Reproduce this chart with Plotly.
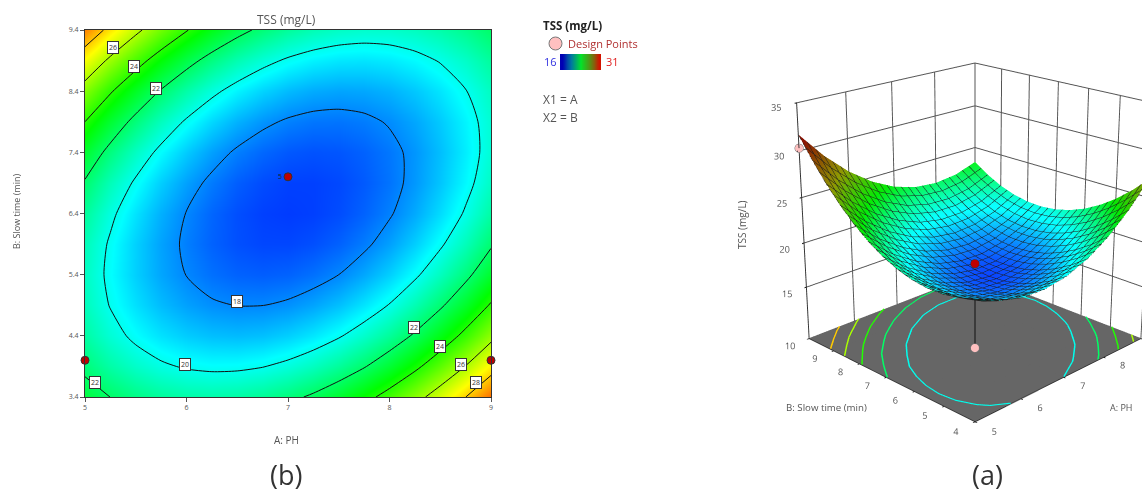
import plotly.graph_objects as go

# Page window is 1142x489; the figure is larger and offset so the surface panel's
# viewport can be tall enough for the reference's mild perspective.
W, H = 1250, 1000
TOP = 275

# ---- contour panel data ----
PH_2D = [5, 5.25, 5.5, 5.75, 6, 6.25, 6.5, 6.75, 7, 7.25, 7.5, 7.75, 8, 8.25, 8.5, 8.75, 9]
SLOW_2D = [3.4, 3.9, 4.4, 4.9, 5.4, 5.9, 6.4, 6.9, 7.4, 7.9, 8.4, 8.9, 9.4]
TSS_2D = [
    [22.57, 21.99, 21.54, 21.23, 21.05, 21.01, 21.10, 21.33, 21.69, 22.19, 22.82, 23.58, 24.48, 25.51, 26.68, 27.99, 29.43],
    [21.71, 21.05, 20.53, 20.15, 19.90, 19.79, 19.81, 19.96, 20.25, 20.67, 21.23, 21.92, 22.75, 23.71, 24.81, 26.04, 27.40],
    [21.10, 20.37, 19.78, 19.33, 19.01, 18.82, 18.76, 18.84, 19.06, 19.41, 19.90, 20.52, 21.27, 22.16, 23.18, 24.34, 25.63],
    [20.75, 19.95, 19.29, 18.76, 18.36, 18.10, 17.98, 17.99, 18.13, 18.41, 18.82, 19.37, 20.05, 20.87, 21.82, 22.90, 24.12],
    [20.65, 19.78, 19.04, 18.44, 17.98, 17.65, 17.45, 17.38, 17.45, 17.66, 18.00, 18.47, 19.08, 19.82, 20.70, 21.71, 22.86],
    [20.81, 19.87, 19.06, 18.39, 17.85, 17.44, 17.17, 17.03, 17.03, 17.16, 17.43, 17.83, 18.37, 19.04, 19.85, 20.79, 21.86],
    [21.22, 20.21, 19.33, 18.58, 17.97, 17.49, 17.15, 16.94, 16.87, 16.93, 17.12, 17.45, 17.91, 18.51, 19.24, 20.11, 21.11],
    [21.89, 20.80, 19.85, 19.03, 18.35, 17.80, 17.38, 17.10, 16.95, 16.94, 17.06, 17.32, 17.71, 18.24, 18.90, 19.69, 20.62],
    [22.82, 21.66, 20.63, 19.74, 18.98, 18.36, 17.87, 17.52, 17.30, 17.21, 17.26, 17.44, 17.76, 18.21, 18.80, 19.52, 20.38],
    [24.00, 22.77, 21.67, 20.70, 19.87, 19.17, 18.61, 18.18, 17.89, 17.73, 17.71, 17.82, 18.07, 18.45, 18.97, 19.62, 20.40],
    [25.43, 24.12, 22.95, 21.91, 21.01, 20.24, 19.61, 19.11, 18.75, 18.52, 18.42, 18.46, 18.63, 18.94, 19.38, 19.96, 20.67],
    [27.12, 25.74, 24.50, 23.39, 22.41, 21.57, 20.87, 20.30, 19.86, 19.56, 19.39, 19.35, 19.45, 19.69, 20.06, 20.56, 21.20],
    [29.06, 27.61, 26.30, 25.12, 24.07, 23.15, 22.37, 21.73, 21.22, 20.84, 20.60, 20.49, 20.52, 20.69, 20.99, 21.42, 21.98],
]
LABEL_X = [5.28, 5.48, 5.70, 6.50, 5.99, 8.24, 8.50, 8.70, 8.855, 5.095]
LABEL_Y = [9.11, 8.81, 8.45, 4.96, 3.93, 4.54, 4.23, 3.93, 3.64, 3.63]
LABEL_TEXT = ["26", "24", "22", "18", "20", "22", "24", "26", "28", "22"]
POINT_X = [5, 7, 9]
POINT_Y = [4, 7, 4]
POINT_TEXT = ["", "5", ""]
TICK_X = [5, 6, 7, 8, 9]
TICK_Y = [3.4, 4.4, 5.4, 6.4, 7.4, 8.4, 9.4]

# ---- surface panel data ----
PH_3D = [5, 5.5, 6, 6.5, 7, 7.5, 8, 8.5, 9]
SLOW_3D = [4, 4.5, 5, 5.5, 6, 6.5, 7, 7.5, 8, 8.5, 9, 9.5, 10]
TSS_3D = [
    [21.56, 20.36, 19.70, 19.58, 19.99, 20.94, 22.44, 24.46, 27.03],
    [21.01, 19.66, 18.86, 18.59, 18.86, 19.66, 21.01, 22.89, 25.31],
    [20.71, 19.22, 18.27, 17.85, 17.98, 18.64, 19.84, 21.57, 23.85],
    [20.66, 19.03, 17.93, 17.37, 17.35, 17.87, 18.92, 20.51, 22.64],
    [20.87, 19.09, 17.85, 17.15, 16.98, 17.35, 18.26, 19.71, 21.69],
    [21.34, 19.41, 18.02, 17.17, 16.86, 17.09, 17.85, 19.15, 20.99],
    [22.06, 19.99, 18.45, 17.46, 17.00, 17.08, 17.70, 18.86, 20.55],
    [23.03, 20.82, 19.14, 18.00, 17.40, 17.33, 17.80, 18.82, 20.36],
    [24.26, 21.90, 20.08, 18.79, 18.05, 17.84, 18.16, 19.03, 20.43],
    [25.75, 23.24, 21.27, 19.84, 18.95, 18.59, 18.78, 19.50, 20.76],
    [27.49, 24.84, 22.72, 21.15, 20.11, 19.61, 19.65, 20.22, 21.33],
    [29.48, 26.69, 24.43, 22.71, 21.52, 20.88, 20.77, 21.20, 22.17],
    [31.73, 28.79, 26.39, 24.52, 23.19, 22.40, 22.15, 22.43, 23.25],
]
FLOOR_LEVELS = [20, 22, 24, 26, 28]
TICK_A = [5, 6, 7, 8, 9]
TICK_B = [4, 5, 6, 7, 8, 9, 10]
TICK_Z = [15, 20, 25, 30, 35]
Z_RANGE = [9, 35]
STEM_A = [6.78, 7]
STEM_B = [6.67, 7]
STEM_Z = [9, 17]
PINK_A = [6.61, 5]
PINK_B = [6.42, 10]
PINK_Z = [9.6, 30.3]
RED_A = [6.83]
RED_B = [6.75]
RED_Z = [18.3]
LEGEND_BAR = [[0, 1, 2, 3, 4, 5, 6, 7, 8, 9, 10]]

RAINBOW = [[0, "#0000ff"], [0.25, "#00ffff"], [0.5, "#00ff00"], [0.75, "#ffff00"], [1, "#ff0000"]]
RAINBOW_3D = [[0, "#0000ff"], [0.25, "#00ffff"], [0.5, "#00e600"], [0.72, "#8c9600"], [1, "#8a1000"]]
FONT = "Open Sans"
TEXT = "#555555"


def px(x):
    return x / W


def py(y):
    return 1 - (y + TOP) / H


def level_color(v):
    t = (v - 16) / 15
    for (a, ca), (b, cb) in zip(RAINBOW, RAINBOW[1:]):
        if t <= b:
            f = (t - a) / (b - a)
            rgb = [int(int(ca[i:i + 2], 16) * (1 - f) + int(cb[i:i + 2], 16) * f) for i in (1, 3, 5)]
            return "rgb(%d,%d,%d)" % tuple(rgb)
    return "#ff0000"


def level_segments(level, xs, ys, zz):
    """Marching squares over the value table; returns polyline coords."""
    out_x, out_y = [], []
    for j in range(len(ys) - 1):
        for i in range(len(xs) - 1):
            c = [(xs[i], ys[j], zz[j][i]), (xs[i + 1], ys[j], zz[j][i + 1]),
                 (xs[i + 1], ys[j + 1], zz[j + 1][i + 1]), (xs[i], ys[j + 1], zz[j + 1][i])]
            hits = []
            for k in range(4):
                a, b = c[k], c[(k + 1) % 4]
                if (a[2] - level) * (b[2] - level) < 0:
                    f = (level - a[2]) / (b[2] - a[2])
                    hits.append((a[0] + f * (b[0] - a[0]), a[1] + f * (b[1] - a[1])))
            for s in range(0, len(hits) - 1, 2):
                out_x += [hits[s][0], hits[s + 1][0], None]
                out_y += [hits[s][1], hits[s + 1][1], None]
    return out_x, out_y


fig = go.Figure()

fig.add_trace(go.Contour(
    x=PH_2D, y=SLOW_2D, z=TSS_2D, zmin=16, zmax=31, colorscale=RAINBOW, showscale=False,
    contours=dict(coloring="heatmap", start=18, end=28, size=2),
    line=dict(color="#111111", width=1, smoothing=0.7), xaxis="x", yaxis="y",
))
fig.add_trace(go.Scatter(
    x=POINT_X, y=POINT_Y, mode="markers+text", text=POINT_TEXT, textposition="middle left",
    textfont=dict(size=7, color="#222222", family=FONT), cliponaxis=False,
    marker=dict(size=8, color="#c00000", line=dict(color="#333333", width=1)), xaxis="x", yaxis="y",
))
fig.add_trace(go.Heatmap(
    z=LEGEND_BAR, showscale=False, zsmooth="best", xaxis="x2", yaxis="y2",
    colorscale=[[0, "#0000b4"], [0.25, "#0078a0"], [0.5, "#00e628"], [0.75, "#5a8c14"], [1, "#d21400"]],
))

# surface panel
fig.add_trace(go.Surface(
    x=PH_3D, y=SLOW_3D, z=TSS_3D, cmin=16, cmax=31, colorscale=RAINBOW_3D, showscale=False,
    lighting=dict(ambient=0.35, diffuse=1.0, specular=0.05, roughness=0.6, fresnel=0.1),
    lightposition=dict(x=-5000, y=5000, z=7000),
    contours=dict(
        x=dict(show=True, start=5, end=9, size=4 / 24, color="#1c1c1c", width=1),
        y=dict(show=True, start=4, end=10, size=6 / 24, color="#1c1c1c", width=1),
    ),
    scene="scene", hoverinfo="skip",
))
fig.add_trace(go.Surface(
    x=[PH_3D[0], PH_3D[-1]], y=[SLOW_3D[0], SLOW_3D[-1]],
    z=[[Z_RANGE[0] + 0.03] * 2] * 2, colorscale=[[0, "#666666"], [1, "#666666"]],
    showscale=False, lighting=dict(ambient=1, diffuse=0, specular=0), scene="scene", hoverinfo="skip",
))
for lev in FLOOR_LEVELS:
    lx, ly = level_segments(lev, PH_3D, SLOW_3D, TSS_3D)
    fig.add_trace(go.Scatter3d(
        x=lx, y=ly, z=[None if v is None else Z_RANGE[0] + 0.06 for v in lx], mode="lines",
        line=dict(color=level_color(lev), width=3), scene="scene", hoverinfo="skip", showlegend=False,
    ))
fig.add_trace(go.Scatter3d(
    x=STEM_A, y=STEM_B, z=STEM_Z, mode="lines",
    line=dict(color="#111111", width=2), scene="scene", hoverinfo="skip",
))
fig.add_trace(go.Scatter3d(
    x=PINK_A, y=PINK_B, z=PINK_Z, mode="markers",
    marker=dict(size=5, color="#ffc0c0", line=dict(color="#777777", width=1)), scene="scene", hoverinfo="skip",
))
fig.add_trace(go.Scatter3d(
    x=RED_A, y=RED_B, z=RED_Z, mode="markers",
    marker=dict(size=5, color="#c00000", line=dict(color="#333333", width=1)), scene="scene", hoverinfo="skip",
))

tickfont3d = dict(size=10.5, color=TEXT, family=FONT)
axis3d = dict(showbackground=True, backgroundcolor="white", gridcolor="#555555", gridwidth=2,
              showline=True, linecolor="#333333", linewidth=2, zeroline=False, showspikes=False,
              ticks="outside", ticklen=2, tickcolor="#111111", tickwidth=2, tickangle=0,
              tickfont=tickfont3d, title=dict(text=""))

ann = [
    dict(x=px(286), y=py(20), text="TSS (mg/L)", size=12, color=TEXT),
    dict(x=px(286), y=py(440), text="A: PH", size=10, color=TEXT),
    dict(x=px(16), y=py(212), text="B: Slow time (min)", size=9, color=TEXT, textangle=-90),
    dict(x=px(286), y=py(474), text="(b)", size=27, color="#333333"),
    dict(x=px(987), y=py(474), text="(a)", size=27, color="#333333"),
    dict(x=px(826), y=py(407), text="B: Slow time (min)", size=9.7, color=TEXT),
    dict(x=px(1121), y=py(407), text="A: PH", size=9, color=TEXT),
    dict(x=px(742), y=py(225), text="TSS (mg/L)", size=10, color=TEXT, textangle=-90),
    dict(x=px(541), y=py(25), text="<b>TSS (mg/L)</b>", size=11.5, color="#222222", xanchor="left"),
    dict(x=px(566), y=py(44), text="Design Points", size=11, color="#b03030", xanchor="left"),
    dict(x=px(550), y=py(62), text="16", size=11, color="#3030e0"),
    dict(x=px(612), y=py(62), text="31", size=11, color="#e02020"),
    dict(x=px(541), y=py(99), text="X1 = A", size=12, color=TEXT, xanchor="left"),
    dict(x=px(541), y=py(117), text="X2 = B", size=12, color=TEXT, xanchor="left"),
]
annotations = []
for a in ann:
    annotations.append(dict(
        xref="paper", yref="paper", x=a["x"], y=a["y"], text=a["text"], showarrow=False,
        xanchor=a.get("xanchor", "center"), yanchor="middle", textangle=a.get("textangle", 0),
        font=dict(size=a["size"], color=a["color"], family=FONT),
    ))
for lx, ly, lt in zip(LABEL_X, LABEL_Y, LABEL_TEXT):
    annotations.append(dict(
        xref="x", yref="y", x=lx, y=ly, text=lt, showarrow=False, bgcolor="white",
        bordercolor="#333333", borderwidth=1, borderpad=1, font=dict(size=7, color="#333333", family=FONT),
    ))

fig.update_layout(
    width=W, height=H, margin=dict(l=0, r=0, t=0, b=0, autoexpand=False), paper_bgcolor="white", plot_bgcolor="white",
    showlegend=False, annotations=annotations,
    xaxis=dict(domain=[px(85), px(491)], range=[5, 9], tickvals=TICK_X, ticks="outside", ticklen=4,
               tickcolor="#555555", showgrid=False, zeroline=False, mirror=True, showline=True,
               linecolor="#333333", linewidth=1, tickfont=dict(size=7, color=TEXT, family=FONT)),
    yaxis=dict(domain=[py(397), py(30)], range=[3.4, 9.4], tickvals=TICK_Y, ticktext=[str(t) for t in TICK_Y],
               ticks="outside", ticklen=4, tickcolor="#555555", showgrid=False, zeroline=False, mirror=True,
               showline=True, linecolor="#333333", linewidth=1, tickfont=dict(size=7, color=TEXT, family=FONT)),
    xaxis2=dict(domain=[px(560), px(601)], visible=False, anchor="y2"),
    yaxis2=dict(domain=[py(70), py(54)], visible=False, anchor="x2"),
    scene=dict(
        domain=dict(x=[px(700), 1], y=[0, 1]),
        xaxis=dict(axis3d, range=[5, 9], tickvals=TICK_A),
        yaxis=dict(axis3d, range=[4, 10], tickvals=TICK_B),
        zaxis=dict(axis3d, range=Z_RANGE, tickvals=TICK_Z),
        aspectmode="manual", aspectratio=dict(x=3, y=3, z=3.1),
        camera=dict(eye=dict(x=-9.87, y=-9.87, z=5.2), center=dict(x=0, y=0, z=0),
                    projection=dict(type="perspective")),
    ),
    shapes=[dict(type="circle", xref="paper", yref="paper", x0=px(549), x1=px(562), y0=py(50), y1=py(37),
                 fillcolor="#ffc0c0", line=dict(color="#777777", width=1))],
)

fig.write_html(
    "out.html", config=dict(displayModeBar=False),
    post_script=("document.documentElement.style.overflow='hidden';"
                 "document.body.style.overflow='hidden';"
                 "document.body.style.margin='-%dpx 0 0 0';" % TOP),
)
